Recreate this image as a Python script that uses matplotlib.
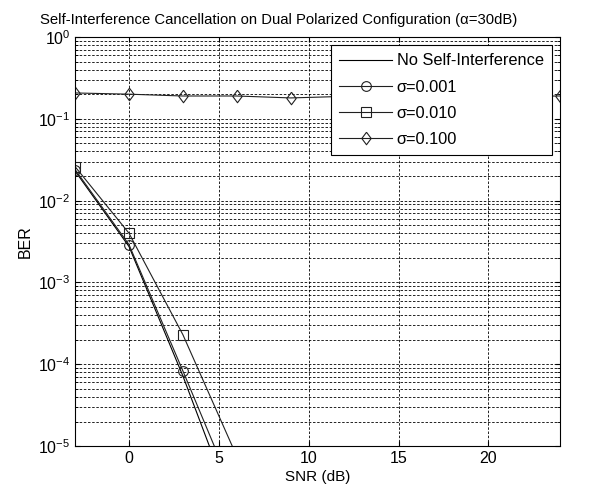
import matplotlib
matplotlib.use('Agg')
import matplotlib.pyplot as plt
import numpy as np

plt.rcParams['font.family'] = ['Liberation Sans', 'DejaVu Sans']
plt.rcParams['mathtext.fontset'] = 'custom'
plt.rcParams['mathtext.rm'] = 'Liberation Sans'
plt.rcParams['mathtext.it'] = 'Liberation Sans:italic'

# SNR points (dB)
snr_db = [-3, 0, 3, 6]
snr_all = [-3, 0, 3, 6, 9, 12, 15, 18, 21, 24]

ber_no_si = [2.3e-2, 2.75e-3, 7.2e-5, 1.3e-6]
ber_s001 = [2.4e-2, 2.9e-3, 8.3e-5, 2.2e-6]
ber_s010 = [2.6e-2, 4.0e-3, 2.3e-4, 7.5e-6]
ber_s100 = [0.207, 0.200, 0.190, 0.190, 0.180, 0.188, 0.188, 0.186, 0.188, 0.190]

# matlab-like diamond (a bit taller than wide)
diamond = [(0, 1), (0.75, 0), (0, -1), (-0.75, 0), (0, 1)]

fig = plt.figure(figsize=(5.96, 4.93), dpi=100)
ax = fig.add_axes([0.126, 0.095, 0.814, 0.830])

lc = '#202020'
ax.semilogy(snr_db, ber_no_si, '-', color='black', lw=0.8, label='No Self-Interference')
ax.semilogy(snr_db, ber_s001, '-o', color=lc, lw=0.8, mfc='none', ms=7, mew=0.8,
            label='σ=0.001')
ax.semilogy(snr_db, ber_s010, '-s', color=lc, lw=0.8, mfc='none', ms=7, mew=0.8,
            label='σ=0.010')
ax.semilogy(snr_all, ber_s100, '-', marker=diamond, color=lc, lw=0.8, mfc='none',
            ms=9, mew=0.8, label='σ=0.100')

ax.set_xlim(-3, 24)
ax.set_ylim(1e-5, 1)
ax.set_xticks([0, 5, 10, 15, 20])
ax.grid(True, which='major', linestyle=(0, (3, 2)), color='black', lw=0.6)
ax.grid(True, which='minor', axis='y', linestyle=(0, (3, 2)), color='black', lw=0.6)
ax.tick_params(which='both', direction='in', top=True, right=True, labelsize=11.5)
ax.tick_params(axis='y', which='minor', labelleft=False)
for s in ax.spines.values():
    s.set_linewidth(0.8)

ax.set_xlabel('SNR (dB)', fontsize=11, labelpad=3)
ax.set_ylabel('BER', fontsize=11.5, labelpad=4)
ax.set_title('Self-Interference Cancellation on Dual Polarized Configuration (α=30dB)',
             fontsize=10.7, pad=9, x=0.419)

leg = ax.legend(loc='upper right', fontsize=11.8, fancybox=False, framealpha=1,
                edgecolor='black', borderaxespad=0.5, handlelength=3.2,
                handletextpad=0.3, labelspacing=0.68, borderpad=0.5)
leg.get_frame().set_linewidth(0.8)

fig.savefig('out.png', dpi=100)
